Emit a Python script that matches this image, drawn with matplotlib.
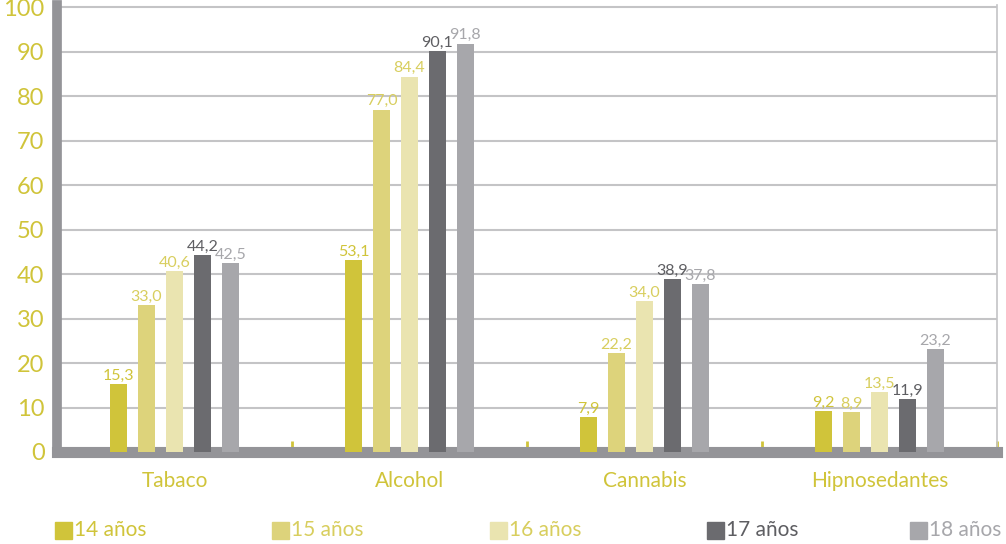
import numpy as np
import matplotlib.pyplot as plt
from matplotlib.patches import Rectangle

# datos
categorias = ['Tabaco', 'Alcohol', 'Cannabis', 'Hipnosedantes']
series = ['14 años', '15 años', '16 años', '17 años', '18 años']
# alturas de las barras tal como se dibujan
valores = [
    [15.3, 43.1, 7.9, 9.2],
    [33.0, 77.0, 22.2, 8.9],
    [40.6, 84.4, 34.0, 13.5],
    [44.2, 90.1, 38.9, 11.9],
    [42.5, 91.8, 37.8, 23.2],
]
# etiquetas que aparecen sobre las barras
etiquetas = [
    ['15,3', '53,1', '7,9', '9,2'],
    ['33,0', '77,0', '22,2', '8,9'],
    ['40,6', '84,4', '34,0', '13,5'],
    ['44,2', '90,1', '38,9', '11,9'],
    ['42,5', '91,8', '37,8', '23,2'],
]
colores = ['#D0C43A', '#DDD37B', '#EAE4B0', '#6B6B6F', '#A7A7AB']
colores_txt = ['#D0C43A', '#D8CE5E', '#D8CE5E', '#5E5E62', '#A7A7AB']
amarillo = '#D0C43A'
gris_eje = '#949498'
leyenda_x = [55, 272, 490, 707, 910]  # px desde la izquierda

plt.rcParams['font.family'] = ['Lato', 'DejaVu Sans']

fig = plt.figure(figsize=(10.06, 5.44), dpi=100)
ax = fig.add_axes([57 / 1006, 1 - 452 / 544, 940 / 1006, 447 / 544])

x = np.arange(len(categorias))
ancho = 0.072
paso = 0.119
for i, s in enumerate(series):
    pos = x + (i - 2) * paso
    ax.bar(pos, valores[i], width=ancho, color=colores[i], zorder=3)
    for j in range(len(categorias)):
        ax.text(pos[j], valores[i][j] + 0.3, etiquetas[i][j], ha='center', va='bottom',
                fontsize=11.5, color=colores_txt[i], zorder=4)

ax.set_xlim(-0.5, 3.5)
ax.set_ylim(0, 100.5)
ax.set_yticks(range(0, 101, 10))
ax.yaxis.grid(True, color='#C4C4C6', lw=1.5, zorder=0)
ax.set_axisbelow(True)

ax.set_xticks(x + 0.5)
ax.set_xticklabels([])
ax.tick_params(axis='x', which='major', direction='in', length=8, width=2, color=amarillo)
ax.set_xticks(x, minor=True)
ax.set_xticklabels(categorias, minor=True)
ax.tick_params(axis='x', which='minor', length=0, pad=14, labelsize=15, labelcolor=amarillo)
ax.tick_params(axis='y', length=0, pad=9, labelsize=17, labelcolor=amarillo)

ax.spines['left'].set_linewidth(7)
ax.spines['left'].set_color(gris_eje)
ax.spines['bottom'].set_linewidth(8)
ax.spines['bottom'].set_color(gris_eje)
ax.spines['top'].set_visible(False)
ax.spines['right'].set_linewidth(1.2)
ax.spines['right'].set_color('#C4C4C6')

# leyenda manual
for i, s in enumerate(series):
    x0 = leyenda_x[i] / 1006
    fig.patches.append(Rectangle((x0, 1 - 539 / 544), 17 / 1006, 17 / 544,
                                 transform=fig.transFigure, color=colores[i]))
    fig.text(x0 + 19 / 1006, 1 - 530 / 544, s, va='center', ha='left',
             fontsize=15, color=colores_txt[i])

fig.savefig('out.png', dpi=100)
